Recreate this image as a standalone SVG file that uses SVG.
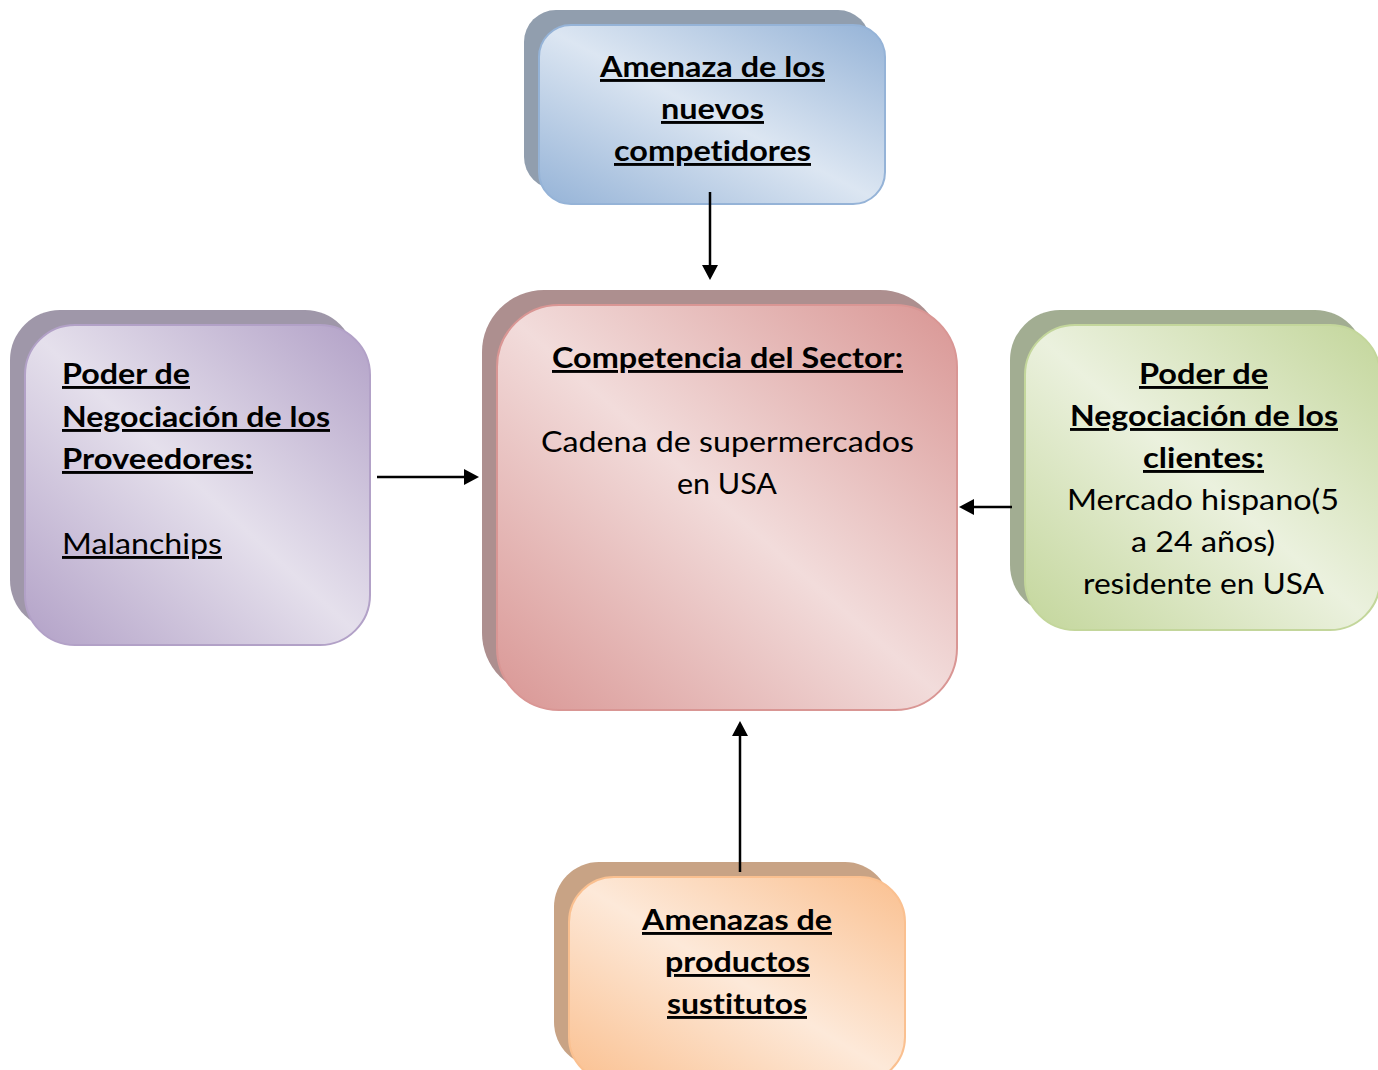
<svg xmlns="http://www.w3.org/2000/svg" width="1378" height="1070" viewBox="0 0 1378 1070">
<defs>
<linearGradient id="gBlue" x1="1" y1="0" x2="0" y2="1"><stop offset="0" stop-color="#95b3d7"/><stop offset="0.5" stop-color="#dce6f2"/><stop offset="1" stop-color="#95b3d7"/></linearGradient>
<linearGradient id="gPurple" x1="1" y1="0" x2="0" y2="1"><stop offset="0" stop-color="#b2a1c7"/><stop offset="0.5" stop-color="#e5e0ec"/><stop offset="1" stop-color="#b2a1c7"/></linearGradient>
<linearGradient id="gRed" x1="1" y1="0" x2="0" y2="1"><stop offset="0" stop-color="#d99694"/><stop offset="0.5" stop-color="#f2dcdb"/><stop offset="1" stop-color="#d99694"/></linearGradient>
<linearGradient id="gGreen" x1="1" y1="0" x2="0" y2="1"><stop offset="0" stop-color="#c3d69b"/><stop offset="0.5" stop-color="#ebf1de"/><stop offset="1" stop-color="#c3d69b"/></linearGradient>
<linearGradient id="gOrange" x1="1" y1="0" x2="0" y2="1"><stop offset="0" stop-color="#fac090"/><stop offset="0.5" stop-color="#fde9d9"/><stop offset="1" stop-color="#fac090"/></linearGradient>
<marker id="arr" markerUnits="userSpaceOnUse" markerWidth="18" markerHeight="18" refX="2" refY="8" orient="auto"><path d="M0,0 L15,8 L0,16 z" fill="#000"/></marker>
<style>
text{font-family:Lato,"Liberation Sans",sans-serif;font-size:29px;fill:#000;font-variant-ligatures:none}
.b{font-weight:bold;text-decoration:underline}
.u{text-decoration:underline}
.m{stroke-width:2}
.c{stroke:#000;stroke-width:2.5;fill:none;marker-end:url(#arr)}
</style>
</defs>
<rect width="1378" height="1070" fill="#fff"/>
<g id="node-top">
<rect x="524" y="10" width="346" height="179" rx="32" fill="#919eae"/>
<rect class="m" x="539" y="25" width="346" height="179" rx="32" fill="url(#gBlue)" stroke="#95b3d7"/>
<text class="b" x="600" y="77" textLength="225" lengthAdjust="spacingAndGlyphs">Amenaza de los</text>
<text class="b" x="661" y="119" textLength="103" lengthAdjust="spacingAndGlyphs">nuevos</text>
<text class="b" x="614" y="161" textLength="197" lengthAdjust="spacingAndGlyphs">competidores</text>
</g>
<g id="node-left">
<rect x="10" y="310" width="345" height="320" rx="50" fill="#9f97a9"/>
<rect class="m" x="25" y="325" width="345" height="320" rx="50" fill="url(#gPurple)" stroke="#b2a1c7"/>
<text class="b" x="62" y="384" textLength="128" lengthAdjust="spacingAndGlyphs">Poder de</text>
<text class="b" x="62" y="427" textLength="268" lengthAdjust="spacingAndGlyphs">Negociación de los</text>
<text class="b" x="62" y="469" textLength="191" lengthAdjust="spacingAndGlyphs">Proveedores:</text>
<text class="u" x="62" y="554" textLength="160" lengthAdjust="spacingAndGlyphs">Malanchips</text>
</g>
<g id="node-center">
<rect x="482" y="290" width="460" height="405" rx="62" fill="#ad8f8f"/>
<rect class="m" x="497" y="305" width="460" height="405" rx="62" fill="url(#gRed)" stroke="#d99694"/>
<text class="b" x="552" y="368" textLength="351" lengthAdjust="spacingAndGlyphs">Competencia del Sector:</text>
<text x="541" y="452" textLength="373" lengthAdjust="spacingAndGlyphs">Cadena de supermercados</text>
<text x="677" y="494" textLength="100" lengthAdjust="spacingAndGlyphs">en USA</text>
</g>
<g id="node-right">
<rect x="1010" y="310" width="355" height="305" rx="50" fill="#a2ad92"/>
<rect class="m" x="1025" y="325" width="355" height="305" rx="50" fill="url(#gGreen)" stroke="#c3d69b"/>
<text class="b" x="1139" y="384" textLength="129" lengthAdjust="spacingAndGlyphs">Poder de</text>
<text class="b" x="1070" y="426" textLength="268" lengthAdjust="spacingAndGlyphs">Negociación de los</text>
<text class="b" x="1143" y="468" textLength="121" lengthAdjust="spacingAndGlyphs">clientes:</text>
<text x="1067" y="510" textLength="272" lengthAdjust="spacingAndGlyphs">Mercado hispano(5</text>
<text x="1131" y="552" textLength="144" lengthAdjust="spacingAndGlyphs">a 24 años)</text>
<text x="1083" y="594" textLength="241" lengthAdjust="spacingAndGlyphs">residente en USA</text>
</g>
<g id="node-bottom">
<rect x="554" y="862" width="336" height="205" rx="45" fill="#c8a385"/>
<rect class="m" x="569" y="877" width="336" height="205" rx="45" fill="url(#gOrange)" stroke="#fac090"/>
<text class="b" x="642" y="930" textLength="190" lengthAdjust="spacingAndGlyphs">Amenazas de</text>
<text class="b" x="665" y="972" textLength="145" lengthAdjust="spacingAndGlyphs">productos</text>
<text class="b" x="667" y="1014" textLength="140" lengthAdjust="spacingAndGlyphs">sustitutos</text>
</g>
<g id="connectors">
<path class="c" d="M710,192 V267"/>
<path class="c" d="M377,477 H466"/>
<path class="c" d="M1012,507 H972"/>
<path class="c" d="M740,872 V734"/>
</g>
</svg>
